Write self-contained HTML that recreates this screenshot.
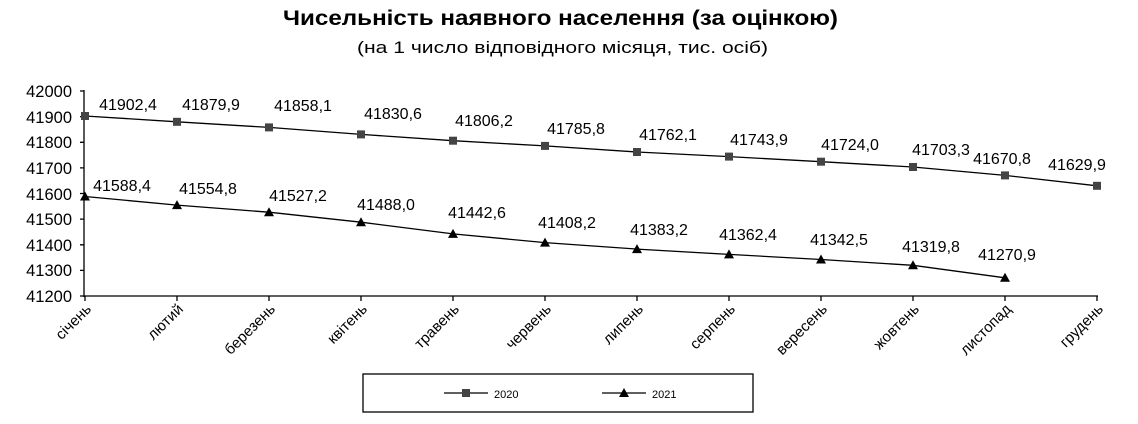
<!DOCTYPE html>
<html><head><meta charset="utf-8"><style>body{margin:0;background:#fff}</style></head><body>
<svg width="1138" height="419" xmlns="http://www.w3.org/2000/svg" font-family="Liberation Sans, sans-serif" fill="#000">
<text x="283" y="25" font-size="21" font-weight="bold" textLength="555" lengthAdjust="spacingAndGlyphs">Чисельність наявного населення (за оцінкою)</text>
<text x="357" y="53" font-size="17" textLength="411" lengthAdjust="spacingAndGlyphs">(на 1 число відповідного місяця, тис. осіб)</text>
<g font-size="16.5" text-anchor="end">
<text x="72" y="97">42000</text><text x="72" y="123">41900</text><text x="72" y="148">41800</text><text x="72" y="174">41700</text><text x="72" y="200">41600</text><text x="72" y="225">41500</text><text x="72" y="251">41400</text><text x="72" y="276">41300</text><text x="72" y="302">41200</text>
</g>
<g stroke="#000" stroke-width="1.3">
<line x1="84" y1="90" x2="84" y2="297"/><line x1="80" y1="296" x2="1098" y2="296"/>
<path d="M80 91H84M80 116.6H84M80 142.3H84M80 167.9H84M80 193.5H84M80 219.1H84M80 244.8H84M80 270.4H84M85 296V301M177 296V301M269 296V301M361 296V301M453 296V301M545 296V301M637 296V301M729 296V301M821 296V301M913 296V301M1005 296V301M1097 296V301"/>
<polyline fill="none" points="85,116 177,121.8 269,127.4 361,134.4 453,140.7 545,145.9 637,152 729,156.6 821,161.7 913,167 1005,175.4 1097,185.8"/>
<polyline fill="none" points="85,196.5 177,205.1 269,212.2 361,222.2 453,233.9 545,242.6 637,249.1 729,254.4 821,259.5 913,265.3 1005,277.8"/>
</g>
<g fill="#444">
<rect x="81" y="112" width="8" height="8"/><rect x="173" y="117.8" width="8" height="8"/><rect x="265" y="123.4" width="8" height="8"/><rect x="357" y="130.4" width="8" height="8"/><rect x="449" y="136.7" width="8" height="8"/><rect x="541" y="141.9" width="8" height="8"/><rect x="633" y="148" width="8" height="8"/><rect x="725" y="152.6" width="8" height="8"/><rect x="817" y="157.7" width="8" height="8"/><rect x="909" y="163" width="8" height="8"/><rect x="1001" y="171.4" width="8" height="8"/><rect x="1093" y="181.8" width="8" height="8"/>
</g>
<g>
<path d="M85 191.5l5 9h-10z M177 200.1l5 9h-10z M269 207.2l5 9h-10z M361 217.2l5 9h-10z M453 228.9l5 9h-10z M545 237.6l5 9h-10z M637 244.1l5 9h-10z M729 249.4l5 9h-10z M821 254.5l5 9h-10z M913 260.3l5 9h-10z M1005 272.8l5 9h-10z"/>
</g>
<g font-size="16" text-anchor="middle">
<text x="128" y="110">41902,4</text><text x="211" y="110">41879,9</text><text x="303" y="111">41858,1</text><text x="393" y="119">41830,6</text><text x="484" y="126">41806,2</text><text x="576" y="134">41785,8</text><text x="668" y="140">41762,1</text><text x="759" y="145">41743,9</text><text x="850" y="150">41724,0</text><text x="941" y="155">41703,3</text><text x="1002" y="164">41670,8</text><text x="1077" y="170">41629,9</text>
<text x="122" y="191">41588,4</text><text x="208" y="194">41554,8</text><text x="298" y="201">41527,2</text><text x="386" y="210">41488,0</text><text x="477" y="218">41442,6</text><text x="567" y="228">41408,2</text><text x="659" y="235">41383,2</text><text x="748" y="240">41362,4</text><text x="839" y="245">41342,5</text><text x="931" y="252">41319,8</text><text x="1007" y="260">41270,9</text>
</g>
<g font-size="15" text-anchor="end">
<text transform="translate(92,310) rotate(-45)">січень</text>
<text transform="translate(184,310) rotate(-45)">лютий</text>
<text transform="translate(276,310) rotate(-45)">березень</text>
<text transform="translate(368,310) rotate(-45)">квітень</text>
<text transform="translate(460,310) rotate(-45)">травень</text>
<text transform="translate(552,310) rotate(-45)">червень</text>
<text transform="translate(644,310) rotate(-45)">липень</text>
<text transform="translate(736,310) rotate(-45)">серпень</text>
<text transform="translate(828,310) rotate(-45)">вересень</text>
<text transform="translate(920,310) rotate(-45)">жовтень</text>
<text transform="translate(1012,310) rotate(-45)">листопад</text>
<text transform="translate(1104,310) rotate(-45)">грудень</text>
</g>
<rect x="363" y="374" width="390" height="38" fill="none" stroke="#000" stroke-width="1.3"/>
<line x1="444" y1="393" x2="488" y2="393" stroke="#000" stroke-width="1.3"/><rect x="462" y="389" width="8" height="8" fill="#444"/>
<text x="494" y="398" font-size="11">2020</text>
<line x1="602" y1="393" x2="646" y2="393" stroke="#000" stroke-width="1.3"/><path d="M624 388l5 9h-10z"/>
<text x="652" y="398" font-size="11">2021</text>
</svg>
</body></html>
